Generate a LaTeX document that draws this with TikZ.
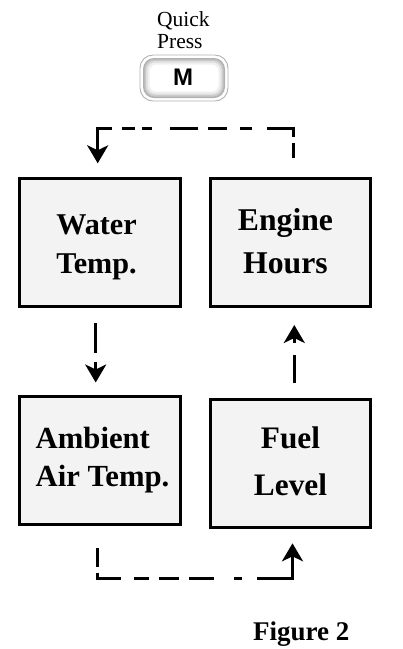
\documentclass[tikz,border=0pt]{standalone}
\usepackage{fontspec}
\setmainfont{Liberation Serif}
\newfontfamily\btnfont{Liberation Sans}
\usetikzlibrary{arrows.meta,calc}
\definecolor{boxfill}{RGB}{243,243,243}
\begin{document}
\begin{tikzpicture}[x=1pt,y=-1pt,
  box/.style={draw=black,line width=3pt,fill=boxfill,minimum width=160.5pt,inner sep=0pt},
  boxtext/.style={inner sep=0pt},
  flow/.style={line width=3pt,-{Stealth[length=18pt,width=21pt,inset=5pt]}},
]
\useasboundingbox (0,0) rectangle (403,649);

% Quick Press label
\node[anchor=west,align=left,inner sep=0pt,font=\fontsize{21.5}{22.3}\selectfont] (qp) at (157,29.8) {Quick\\Press};

% M button
\draw[gray!60,line width=0.9pt,fill=white,rounded corners=13pt] (140,55) rectangle (228,101);
\fill[gray!60,rounded corners=11pt] (143,58) rectangle (225,98);
\fill[gray!42,rounded corners=10pt] (144.5,59.5) rectangle (223.5,96.5);
\fill[gray!26,rounded corners=9pt] (146,61) rectangle (222,95);
\fill[gray!12,rounded corners=8pt] (147.5,62.5) rectangle (220.5,93.5);
\fill[white,rounded corners=7pt] (149.5,64.5) rectangle (218.5,91.5);
\node[font=\btnfont\bfseries\fontsize{24}{24}\selectfont,inner sep=0pt] (mkey) at (183,77.5) {M};

% boxes
\node[box,minimum height=127.4pt] (water) at (100,242.5) {};
\node[box,minimum height=127.4pt] (engine) at (290.5,242.5) {};
\node[box,minimum height=128.3pt] (ambient) at (100,460.3) {};
\node[box,minimum height=128pt] (fuel) at (290.5,463.2) {};

\node[boxtext,align=center,font=\bfseries\fontsize{30.2}{39}\selectfont] (waterT) at (96.5,247.6) {Water\\Temp.};
\node[boxtext,align=center,font=\bfseries\fontsize{31.7}{43.3}\selectfont] (engineT) at (285.5,241.1) {Engine\\Hours};
\node[boxtext,align=left,font=\bfseries\fontsize{30.7}{38.4}\selectfont] (ambientT) at (102.5,460.4) {Ambient\\Air Temp.};
\node[boxtext,align=center,font=\bfseries\fontsize{31.3}{46.7}\selectfont] (fuelT) at (290.5,461.1) {Fuel\\Level};

% connector coordinates
\coordinate (eUp) at (293.3,158.3);
\coordinate (eCorner) at (293.3,128.3);
\coordinate (wCorner) at (97.7,128.3);
\coordinate (wIn) at (97.7,163.3);

\coordinate (wOut) at (95.7,323.3);
\coordinate (aIn) at (95.7,382.5);

\coordinate (fOut) at (294.3,383.3);
\coordinate (eIn) at (294.3,325);

\coordinate (aOut) at (97.5,548.3);
\coordinate (aCorner) at (97.5,578.3);
\coordinate (fCorner) at (292.5,578.3);
\coordinate (fIn) at (292.5,543.3);

% connectors
\draw[flow,dash pattern=on 15pt off 6.7pt on 35pt off 15pt on 11.7pt off 13.3pt on 18.3pt off 10pt on 28.3pt off 18.3pt on 10pt off 6.7pt on 13.3pt off 10pt on 80pt off 0pt]
  (eUp) -- (eCorner) -- (wCorner) -- (wIn);
\draw[flow,dash pattern=on 30pt off 8.4pt on 40pt off 0pt] (wOut) -- (aIn);
\draw[flow,dash pattern=on 28.3pt off 12pt on 40pt off 0pt] (fOut) -- (eIn);
\draw[flow,dash pattern=on 18.3pt off 6.7pt on 28.3pt off 13.3pt on 15pt off 10pt on 20pt off 10pt on 25pt off 20pt on 8.3pt off 15pt on 80pt off 0pt]
  (aOut) -- (aCorner) -- (fCorner) -- (fIn);

% caption
\node[anchor=base,inner sep=0pt,font=\bfseries\fontsize{27}{30}\selectfont] (fig) at (301.3,640) {Figure 2};
\end{tikzpicture}
\end{document}
